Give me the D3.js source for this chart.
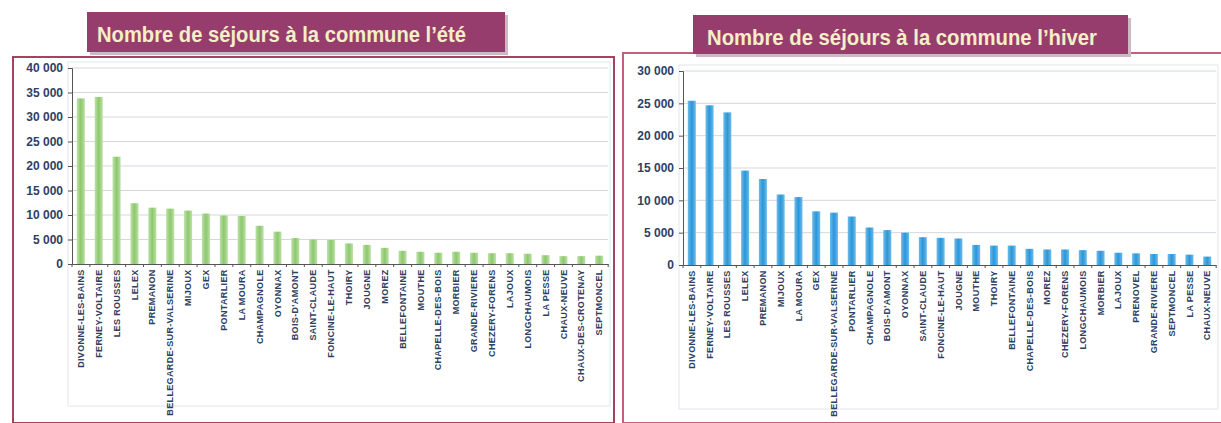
<!DOCTYPE html>
<html>
<head>
<meta charset="utf-8">
<script src="https://cdn.jsdelivr.net/npm/d3@7"></script>
<style>
  body { margin: 0; background: #fff; }
  svg { display: block; }
</style>
</head>
<body>
<svg id="chart" width="1221" height="423"></svg>
<script>
// Data
const summerTitle = "Nombre de séjours à la commune l’été";
const summerCommunes = ["DIVONNE-LES-BAINS", "FERNEY-VOLTAIRE", "LES ROUSSES", "LELEX", "PREMANON",
    "BELLEGARDE-SUR-VALSERINE", "MIJOUX", "GEX", "PONTARLIER", "LA MOURA", "CHAMPAGNOLE", "OYONNAX",
    "BOIS-D'AMONT", "SAINT-CLAUDE", "FONCINE-LE-HAUT", "THOIRY", "JOUGNE", "MOREZ", "BELLEFONTAINE",
    "MOUTHE", "CHAPELLE-DES-BOIS", "MORBIER", "GRANDE-RIVIERE", "CHEZERY-FORENS", "LAJOUX",
    "LONGCHAUMOIS", "LA PESSE", "CHAUX-NEUVE", "CHAUX-DES-CROTENAY", "SEPTMONCEL"];
const summerValues = [33800, 34100, 21900, 12400, 11500, 11300, 10900, 10300, 9900, 9800, 7800, 6600,
    5300, 5000, 4900, 4200, 3900, 3300, 2700, 2500, 2300, 2500, 2300, 2200, 2200, 2100, 1800, 1600, 1600, 1700];
const summerTicks = [0, 5000, 10000, 15000, 20000, 25000, 30000, 35000, 40000];

const winterTitle = "Nombre de séjours à la commune l’hiver";
const winterCommunes = ["DIVONNE-LES-BAINS", "FERNEY-VOLTAIRE", "LES ROUSSES", "LELEX", "PREMANON",
    "MIJOUX", "LA MOURA", "GEX", "BELLEGARDE-SUR-VALSERINE", "PONTARLIER", "CHAMPAGNOLE", "BOIS-D'AMONT",
    "OYONNAX", "SAINT-CLAUDE", "FONCINE-LE-HAUT", "JOUGNE", "MOUTHE", "THOIRY", "BELLEFONTAINE",
    "CHAPELLE-DES-BOIS", "MOREZ", "CHEZERY-FORENS", "LONGCHAUMOIS", "MORBIER", "LAJOUX", "PRENOVEL",
    "GRANDE-RIVIERE", "SEPTMONCEL", "LA PESSE", "CHAUX-NEUVE"];
const winterValues = [25400, 24700, 23600, 14600, 13300, 10900, 10500, 8300, 8100, 7500, 5800, 5400,
    5000, 4300, 4200, 4100, 3100, 3000, 3000, 2500, 2400, 2400, 2300, 2200, 1900, 1800, 1700, 1700, 1600, 1300];
const winterTicks = [0, 5000, 10000, 15000, 20000, 25000, 30000];

const svg = d3.select("#chart");
const fmt = v => d3.format(",")(v).replace(/,/g, " ");

function drawPanel(p) {
    const g = svg.append("g");

    // outer frame
    g.append("rect")
        .attr("x", p.frame[0]).attr("y", p.frame[1])
        .attr("width", p.frame[2]).attr("height", p.frame[3])
        .attr("fill", "#fff")
        .attr("stroke", p.frameColor)
        .attr("stroke-width", 2);

    // plot area border
    g.append("rect")
        .attr("x", p.plot[0] - 4).attr("y", p.plot[2] - 6)
        .attr("width", p.plot[1] - p.plot[0] + 6).attr("height", 344)
        .attr("fill", "none")
        .attr("stroke", "#e3e6ec")
        .attr("stroke-width", 1);

    const x = d3.scaleBand()
        .domain(p.categories)
        .range([p.plot[0], p.plot[1]])
        .paddingInner(0.55)
        .paddingOuter(0.27);

    const y = d3.scaleLinear()
        .domain([0, d3.max(p.ticks)])
        .range([p.plot[3], p.plot[2]]);

    // gridlines
    g.append("g")
        .selectAll("line")
        .data(p.ticks.filter(t => t > 0))
        .join("line")
        .attr("x1", p.plot[0]).attr("x2", p.plot[1])
        .attr("y1", d => y(d)).attr("y2", d => y(d))
        .attr("stroke", "#d4d7de")
        .attr("stroke-width", 1);

    // bars
    const grad = svg.append("defs").append("linearGradient")
        .attr("id", p.id + "grad").attr("x1", 0).attr("x2", 1);
    grad.append("stop").attr("offset", "0%").attr("stop-color", p.barLight);
    grad.append("stop").attr("offset", "50%").attr("stop-color", p.barColor);
    grad.append("stop").attr("offset", "100%").attr("stop-color", p.barLight);

    g.append("g")
        .selectAll("rect")
        .data(p.values)
        .join("rect")
        .attr("x", (d, i) => x(p.categories[i]))
        .attr("y", d => y(d))
        .attr("width", x.bandwidth())
        .attr("height", d => y(0) - y(d))
        .attr("fill", `url(#${p.id}grad)`);

    // y axis
    const yAxis = g.append("g")
        .attr("transform", `translate(${p.plot[0]},0)`)
        .call(d3.axisLeft(y).tickValues(p.ticks).tickFormat(fmt).tickSize(4).tickPadding(5));
    yAxis.select(".domain").attr("stroke", "#555");
    yAxis.selectAll(".tick line").attr("stroke", "#555");
    yAxis.selectAll("text")
        .attr("fill", "#2e3f63")
        .attr("font-family", "Liberation Sans, Arial, sans-serif")
        .attr("font-weight", "bold")
        .attr("font-size", 12);

    // x axis
    const step = x.step();
    const xAxis = g.append("g")
        .attr("transform", `translate(0,${y(0)})`)
        .call(d3.axisBottom(x).tickSize(0).tickPadding(6));
    xAxis.select(".domain").attr("stroke", "#555");
    xAxis.selectAll("text")
        .attr("fill", "#2e3f63")
        .attr("font-family", "Liberation Sans, Arial, sans-serif")
        .attr("font-weight", "bold")
        .attr("font-size", 9)
        .attr("letter-spacing", 0.35)
        .attr("transform", "rotate(-90)")
        .attr("text-anchor", "end")
        .attr("dx", "-0.6em")
        .attr("dy", "0.35em")
        .attr("x", 0).attr("y", 0);
    // category separators
    g.append("g")
        .selectAll("line")
        .data(d3.range(p.categories.length + 1))
        .join("line")
        .attr("x1", i => p.plot[0] + i * step).attr("x2", i => p.plot[0] + i * step)
        .attr("y1", y(0)).attr("y2", y(0) + 3)
        .attr("stroke", "#555");

    // title box
    g.append("rect")
        .attr("x", p.title[0] + 3).attr("y", p.title[1] + 3)
        .attr("width", p.title[2]).attr("height", p.title[3])
        .attr("fill", "#cdb8c3");
    g.append("rect")
        .attr("x", p.title[0]).attr("y", p.title[1])
        .attr("width", p.title[2]).attr("height", p.title[3])
        .attr("fill", "#973d6d");
    g.append("text")
        .attr("x", p.title[0] + p.titleText[0])
        .attr("y", p.title[1] + p.titleText[1])
        .attr("fill", "#f4efc6")
        .attr("font-family", "Liberation Sans, Arial, sans-serif")
        .attr("font-weight", "bold")
        .attr("font-size", 22)
        .attr("textLength", p.titleText[2])
        .attr("lengthAdjust", "spacingAndGlyphs")
        .text(p.label);
}

drawPanel({
    id: "ete", label: summerTitle,
    categories: summerCommunes, values: summerValues, ticks: summerTicks,
    frame: [13, 57, 601, 366], frameColor: "#a8405f",
    plot: [72, 608, 68, 264],
    title: [87, 12, 418, 40], titleText: [10, 30, 369],
    barColor: "#8cc86e", barLight: "#bde1a6"
});

drawPanel({
    id: "hiver", label: winterTitle,
    categories: winterCommunes, values: winterValues, ticks: winterTicks,
    frame: [623, 53, 600, 370], frameColor: "#c2607a",
    plot: [683, 1216, 71, 265],
    title: [693, 15, 435, 39], titleText: [14, 30, 390],
    barColor: "#2b96d8", barLight: "#6cbbe9"
});
</script>
</body>
</html>
